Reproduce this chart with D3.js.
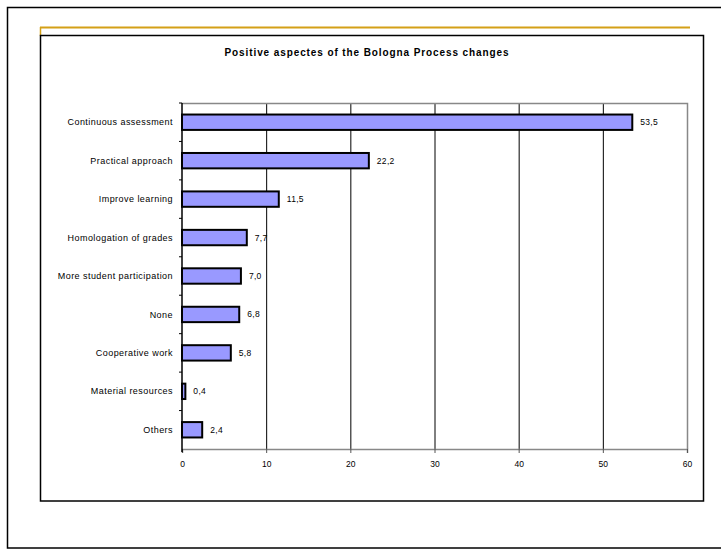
<!DOCTYPE html>
<html>
<head>
<meta charset="utf-8">
<script src="https://cdn.jsdelivr.net/npm/d3@7"></script>
<style>
  body { margin: 0; background: #fff; }
  text { font-family: "Liberation Sans", Arial, sans-serif; }
</style>
</head>
<body>
<svg id="chart" width="721" height="550"></svg>
<script>
const categories = ["Continuous assessment","Practical approach","Improve learning","Homologation of grades","More student participation","None","Cooperative work","Material resources","Others"]
const values = [53.5, 22.2, 11.5, 7.7, 7.0, 6.8, 5.8, 0.4, 2.4]
const xTicks = [0, 10, 20, 30, 40, 50, 60]
const title = "Positive aspectes of the Bologna Process changes"

const svg = d3.select("#chart")

// outer frame and slide decoration
svg.append("rect").attr("x", 7.5).attr("y", 7.5).attr("width", 730).attr("height", 540.5)
    .attr("fill", "none").attr("stroke", "#000").attr("stroke-width", 1.5)
svg.append("line").attr("x1", 40).attr("x2", 690).attr("y1", 27.5).attr("y2", 27.5)
    .attr("stroke", "#d4a017").attr("stroke-width", 2)
svg.append("line").attr("x1", 40.5).attr("x2", 40.5).attr("y1", 27).attr("y2", 36)
    .attr("stroke", "#d4a017").attr("stroke-width", 1.5)
svg.append("rect").attr("x", 40.5).attr("y", 35.5).attr("width", 663).attr("height", 465.5)
    .attr("fill", "#fff").attr("stroke", "#000").attr("stroke-width", 1.5)

svg.append("text").attr("x", 367).attr("y", 56).attr("text-anchor", "middle")
    .style("font-size", "10px").style("font-weight", "bold").style("letter-spacing", "0.9px").text(title)

const plotL = 182, plotR = 687, plotT = 103, plotB = 449
const x = d3.scaleLinear().domain([0, 60]).range([plotL, plotR])
const y = d3.scaleBand().domain(categories).range([plotT, plotB]).paddingInner(0.6).paddingOuter(0.3)
const yb = d3.scaleBand().domain(categories).range([plotT, plotB])

// gridlines
svg.append("g").selectAll("line").data(xTicks.slice(1, -1)).enter().append("line")
    .attr("x1", d => x(d) + 0.5).attr("x2", d => x(d) + 0.5)
    .attr("y1", plotT).attr("y2", plotB).attr("stroke", "#000").attr("stroke-width", 1)

// plot border top/right
svg.append("path").attr("d", `M${plotL},${plotT + 0.5}H${plotR + 0.5}V${plotB}`)
    .attr("fill", "none").attr("stroke", "#888").attr("stroke-width", 1.5)

// bars
svg.append("g").selectAll("rect").data(values).enter().append("rect")
    .attr("x", x(0))
    .attr("y", (d, i) => y(categories[i]))
    .attr("width", d => x(d) - x(0))
    .attr("height", y.bandwidth())
    .attr("fill", "#9999ff").attr("stroke", "#000").attr("stroke-width", 2)

// value labels
svg.append("g").selectAll("text").data(values).enter().append("text")
    .attr("x", d => x(d) + 8)
    .attr("y", (d, i) => y(categories[i]) + y.bandwidth() / 2)
    .attr("dy", "0.35em")
    .style("font-size", "8.5px").style("letter-spacing", "0.3px")
    .text(d => d3.format(".1f")(d).replace(".", ","))

// x axis
const xAxis = svg.append("g").attr("transform", `translate(0,${plotB})`)
    .call(d3.axisBottom(x).tickValues(xTicks).tickSize(4).tickPadding(8).tickFormat(d => d))
xAxis.select(".domain").attr("stroke", "#888").attr("stroke-width", 1.5)
xAxis.selectAll(".tick line").attr("stroke", "#555")
xAxis.selectAll("text").style("font-size", "8.5px").attr("font-family", null).attr("fill", "#000")

// y axis with ticks between categories
svg.append("line").attr("x1", plotL).attr("x2", plotL).attr("y1", plotT).attr("y2", plotB + 3)
    .attr("stroke", "#000").attr("stroke-width", 1.5)
svg.append("g").selectAll("line").data(categories).enter().append("line")
    .attr("x1", plotL - 3).attr("x2", plotL)
    .attr("y1", d => yb(d)).attr("y2", d => yb(d))
    .attr("stroke", "#000").attr("stroke-width", 1)
svg.append("g").selectAll("text").data(categories).enter().append("text")
    .attr("x", plotL - 9)
    .attr("y", d => y(d) + y.bandwidth() / 2)
    .attr("dy", "0.35em").attr("text-anchor", "end")
    .style("font-size", "9px").style("letter-spacing", "0.45px")
    .text(d => d)
</script>
</body>
</html>
